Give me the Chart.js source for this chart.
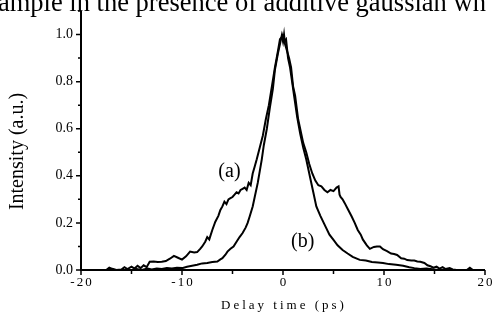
<!DOCTYPE html>
<html>
<head>
<meta charset="utf-8">
<script src="https://cdn.jsdelivr.net/npm/chart.js@4.4.0/dist/chart.umd.min.js"></script>
<style>
  html, body { margin: 0; padding: 0; background: #fff; }
  #wrap { width: 492px; height: 325px; position: relative; }
</style>
</head>
<body>
<div id="wrap"><canvas id="traceChart"></canvas></div>
<script>
// Curve (a): wide trace
const delayA = [-20, -19, -18, -17.5, -17.2, -16.9, -16.5, -16, -15.7, -15.4, -15, -14.7, -14.4, -14.1, -13.8, -13.5, -13.2, -12.8, -12.4, -12, -11.6, -11.2, -10.8, -10.4, -10, -9.6, -9.2, -8.8, -8.5, -8.2, -8, -7.7, -7.5, -7.3, -7, -6.7, -6.4, -6.2, -6, -5.8, -5.6, -5.4, -5.2, -5, -4.8, -4.6, -4.4, -4.2, -4, -3.8, -3.6, -3.4, -3.2, -3, -2.8, -2.6, -2.3, -2, -1.7, -1.4, -1.1, -0.8, -0.5, -0.3, -0.1, 0, 0.1, 0.2, 0.4, 0.6, 0.8, 1, 1.2, 1.5, 1.8, 2, 2.3, 2.6, 2.9, 3.2, 3.5, 3.8, 4.1, 4.4, 4.7, 5, 5.3, 5.5, 5.6, 5.7, 5.9, 6.1, 6.4, 6.8, 7.1, 7.4, 7.7, 7.9, 8.3, 8.6, 9, 9.3, 9.6, 9.9, 10.3, 10.7, 11, 11.3, 11.7, 12, 12.3, 12.7, 13, 13.3, 13.6, 14, 14.3, 14.6, 14.9, 15.2, 15.5, 15.8, 16.1, 16.5, 16.8, 17.2, 18.2, 18.5, 18.8, 20];
const intensityA = [0, 0, 0, 0, 0.01, 0.005, 0, 0.002, 0.012, 0.004, 0.014, 0.006, 0.018, 0.008, 0.02, 0.012, 0.035, 0.036, 0.034, 0.035, 0.038, 0.048, 0.06, 0.052, 0.044, 0.058, 0.078, 0.074, 0.076, 0.09, 0.1, 0.12, 0.14, 0.13, 0.17, 0.205, 0.23, 0.255, 0.27, 0.29, 0.28, 0.3, 0.305, 0.31, 0.32, 0.33, 0.325, 0.34, 0.345, 0.35, 0.34, 0.37, 0.36, 0.41, 0.44, 0.47, 0.52, 0.57, 0.64, 0.7, 0.78, 0.86, 0.93, 0.98, 0.99, 0.97, 1.0, 0.96, 0.93, 0.9, 0.86, 0.78, 0.74, 0.64, 0.58, 0.54, 0.5, 0.45, 0.41, 0.38, 0.36, 0.355, 0.34, 0.33, 0.34, 0.335, 0.35, 0.355, 0.32, 0.31, 0.3, 0.285, 0.26, 0.227, 0.2, 0.17, 0.15, 0.13, 0.105, 0.09, 0.098, 0.1, 0.1, 0.088, 0.08, 0.07, 0.068, 0.064, 0.05, 0.048, 0.042, 0.04, 0.04, 0.036, 0.035, 0.03, 0.02, 0.016, 0.01, 0.014, 0.006, 0.012, 0.004, 0.008, 0.002, 0, 0, 0.01, 0, 0];

// Curve (b): narrow trace
const delayB = [-20, -15, -14.5, -14, -13.4, -13, -12.5, -12, -11.5, -11, -10.5, -10, -9.5, -9, -8.5, -8, -7.5, -7, -6.5, -6.2, -6, -5.7, -5.5, -5.2, -4.9, -4.6, -4.3, -4, -3.7, -3.5, -3.3, -3, -2.8, -2.5, -2.3, -2.1, -1.9, -1.6, -1.3, -1, -0.8, -0.5, -0.3, -0.1, 0.1, 0.3, 0.5, 0.7, 0.9, 1.1, 1.4, 1.7, 2, 2.3, 2.6, 3, 3.3, 3.7, 4.2, 4.6, 5, 5.4, 5.9, 6.4, 6.9, 7.6, 8.2, 8.8, 9.4, 9.9, 10.5, 11.2, 11.9, 12.5, 13, 13.6, 14.2, 15, 16, 20];
const intensityB = [0, 0, 0.004, 0, 0.006, 0.002, 0.006, 0.004, 0.008, 0.006, 0.01, 0.008, 0.014, 0.018, 0.022, 0.028, 0.03, 0.034, 0.036, 0.045, 0.05, 0.065, 0.078, 0.09, 0.1, 0.12, 0.14, 0.157, 0.18, 0.2, 0.227, 0.27, 0.31, 0.37, 0.42, 0.47, 0.53, 0.6, 0.69, 0.77, 0.85, 0.92, 0.96, 1.0, 0.97, 0.98, 0.9, 0.86, 0.8, 0.74, 0.65, 0.58, 0.52, 0.47, 0.41, 0.33, 0.27, 0.23, 0.185, 0.15, 0.128, 0.105, 0.085, 0.07, 0.056, 0.043, 0.04, 0.034, 0.032, 0.03, 0.025, 0.022, 0.018, 0.012, 0.008, 0.004, 0.006, 0.002, 0, 0];

// Axis ticks
const xMajor = [-20, -10, 0, 10, 20];
const xMinor = [-15, -5, 5, 15];
const yMajor = [0, 0.2, 0.4, 0.6, 0.8, 1.0];
const yMinor = [0.1, 0.3, 0.5, 0.7, 0.9, 1.1];

const serif = '"Liberation Serif", "Times New Roman", serif';

function toPoints(xs, ys) {
    return xs.map((x, i) => ({ x: x, y: ys[i] }));
}

// Draws axes, ticks, labels and the cut-off caption line
const axesPlugin = {
    id: 'axesPlugin',
    afterDraw(chart) {
        const ctx = chart.ctx;
        const xs = chart.scales.x;
        const ys = chart.scales.y;
        const area = chart.chartArea;
        const y0 = ys.getPixelForValue(0);
        const x0 = xs.getPixelForValue(-20);

        ctx.save();
        ctx.strokeStyle = '#000';
        ctx.fillStyle = '#000';
        ctx.lineWidth = 2;

        // axis lines
        ctx.beginPath();
        ctx.moveTo(x0, ys.getPixelForValue(1.1));
        ctx.lineTo(x0, y0);
        ctx.lineTo(xs.getPixelForValue(20), y0);
        ctx.stroke();

        ctx.lineWidth = 1.5;
        ctx.beginPath();
        xMajor.forEach(v => { const p = xs.getPixelForValue(v); ctx.moveTo(p, y0); ctx.lineTo(p, y0 + 5); });
        xMinor.forEach(v => { const p = xs.getPixelForValue(v); ctx.moveTo(p, y0); ctx.lineTo(p, y0 + 4); });
        yMajor.forEach(v => { const p = ys.getPixelForValue(v); ctx.moveTo(x0, p); ctx.lineTo(x0 - 5, p); });
        yMinor.forEach(v => { const p = ys.getPixelForValue(v); ctx.moveTo(x0, p); ctx.lineTo(x0 - 3, p); });
        ctx.stroke();

        // y tick labels
        ctx.font = '14px ' + serif;
        ctx.textAlign = 'right';
        ctx.textBaseline = 'middle';
        yMajor.forEach(v => ctx.fillText(v.toFixed(1), x0 - 8, ys.getPixelForValue(v)));

        // x tick labels (spaced out)
        ctx.font = '13px ' + serif;
        ctx.textAlign = 'center';
        ctx.textBaseline = 'top';
        ctx.letterSpacing = '2px';
        xMajor.forEach(v => ctx.fillText(String(v), xs.getPixelForValue(v) + 1, y0 + 6));

        // x title
        ctx.font = '13px ' + serif;
        ctx.letterSpacing = '3px';
        ctx.fillText('Delay time (ps)', xs.getPixelForValue(0) + 1, y0 + 29);
        ctx.letterSpacing = '0px';

        // y title
        ctx.save();
        ctx.translate(18, (area.top + area.bottom) / 2 + 11);
        ctx.rotate(-Math.PI / 2);
        ctx.font = '20px ' + serif;
        ctx.textBaseline = 'middle';
        ctx.fillText('Intensity (a.u.)', 0, 0);
        ctx.restore();

        // curve labels
        ctx.font = '20px ' + serif;
        ctx.textAlign = 'left';
        ctx.textBaseline = 'alphabetic';
        ctx.fillText('(a)', xs.getPixelForValue(-6.4), ys.getPixelForValue(0.396));
        ctx.fillText('(b)', xs.getPixelForValue(0.8), ys.getPixelForValue(0.098));

        // caption line cut off at the top of the picture
        ctx.font = '26.5px ' + serif;
        ctx.fillText('ample in the presence of additive gaussian wh', -2, 11);

        ctx.restore();
    }
};

const ctxTrace = document.getElementById('traceChart').getContext('2d');
new Chart(ctxTrace, {
    type: 'line',
    data: {
        datasets: [{
            label: '(a)',
            data: toPoints(delayA, intensityA),
            borderColor: '#000',
            borderWidth: 2,
            pointRadius: 0,
            tension: 0
        }, {
            label: '(b)',
            data: toPoints(delayB, intensityB),
            borderColor: '#000',
            borderWidth: 2,
            pointRadius: 0,
            tension: 0
        }]
    },
    options: {
        responsive: true,
        maintainAspectRatio: false,
        animation: false,
        layout: { padding: { top: 11, right: 7, left: 0, bottom: 0 } },
        plugins: { legend: { display: false }, tooltip: { enabled: false } },
        scales: {
            x: {
                type: 'linear',
                min: -20,
                max: 20,
                grid: { display: false },
                border: { display: false },
                ticks: { display: false },
                afterFit: scale => { scale.height = 55; }
            },
            y: {
                min: 0,
                max: 1.1,
                grid: { display: false },
                border: { display: false },
                ticks: { display: false },
                afterFit: scale => { scale.width = 81; }
            }
        }
    },
    plugins: [axesPlugin]
});
</script>
</body>
</html>
